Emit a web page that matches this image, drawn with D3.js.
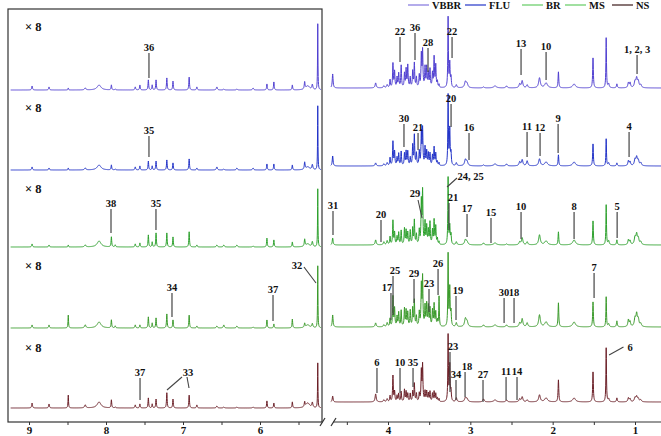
<!DOCTYPE html>
<html><head><meta charset="utf-8">
<script src="https://cdn.jsdelivr.net/npm/d3@7/dist/d3.min.js"></script>
<style>body{margin:0;background:#fff}svg{display:block}</style>
</head><body><script>
// ---------------- DATA ----------------
const series = ["VBBR", "FLU", "BR", "MS", "NS"];
const lineColors = ["#4f3fd1", "#2233c8", "#2da12d", "#3a9a2a", "#6b1f27"];
const legendColors = ["#8c7fe0", "#3344cc", "#6fcf6f", "#6fcf6f", "#4a2a2a"];

// right region (4.7 - 0.65 ppm): peak centres, half widths, intensities per sample
const rightPpm = [4.672,4.15,4.05,4.01,3.975,3.94,3.92,3.89,3.87,3.84,3.80,3.78,3.76,3.73,3.70,3.68,3.655,3.62,3.595,3.58,3.55,3.53,3.51,3.49,3.46,3.44,3.42,3.40,3.38,3.27,3.25,3.235,3.17,3.06,3.04,2.84,2.70,2.56,2.40,2.37,2.31,2.16,2.08,1.93,1.74,1.51,1.35,1.32,1.22,1.08,1.06,1.00,0.98,0.96,0.93];
const rightWidth = [0.006,0.008,0.008,0.008,0.005,0.005,0.005,0.005,0.005,0.005,0.005,0.005,0.005,0.005,0.005,0.005,0.005,0.005,0.005,0.005,0.005,0.005,0.005,0.005,0.005,0.005,0.005,0.005,0.004,0.004,0.005,0.005,0.008,0.012,0.012,0.01,0.02,0.01,0.01,0.01,0.01,0.012,0.02,0.005,0.02,0.005,0.004,0.008,0.006,0.008,0.008,0.01,0.01,0.01,0.01];
const rightVBBR = [14,5,2,3,8,24,16,10,14,22,14,18,22,10,16,24,10,12,32,36,20,20,14,18,14,30,22,6,3,70,24,10,3,6,4,1,2,2,4,7,3,10,5,16,4,30,50,4,4,5,5,6,9,6,3];
const rightFLU  = [10,3,2,3,8,24,14,8,12,14,12,14,14,8,20,30,12,14,32,36,18,14,12,12,10,18,12,4,3,70,36,12,3,6,4,1,2,2,4,6,5,7,4,11,4,22,27,3,3,5,4,6,8,5,3];
const rightBR   = [7,5,3,4,8,24,12,8,12,14,16,14,12,14,16,24,10,14,42,52,22,18,14,22,14,24,18,6,3,67,18,10,3,5,3,2,2,1,3,7,3,10,4,13,5,24,40,4,5,5,4,7,10,6,3];
const rightMS   = [12,4,2,4,8,30,18,10,14,16,18,16,14,16,18,26,10,14,40,48,20,22,20,18,16,22,14,6,30,72,38,14,4,8,5,2,2,2,4,8,4,12,5,24,5,25,30,3,6,7,5,8,12,7,3];
const rightNS   = [6,8,2,3,6,26,10,6,8,10,12,10,8,8,10,18,8,8,30,36,10,10,8,10,8,10,8,4,3,66,36,10,4,4,3,3,2,2,3,5,2,7,4,22,4,30,54,3,4,4,3,4,5,3,2];

// left region (9.25 - 5.2 ppm, shown x8)
const leftPpm = [8.96,8.74,8.49,8.27,8.09,7.93,7.88,7.62,7.56,7.45,7.40,7.35,7.21,7.13,6.92,6.82,6.56,6.47,6.30,6.09,5.91,5.82,5.58,5.42,5.38,5.32,5.25];
const leftWidth = [0.006,0.006,0.004,0.01,0.03,0.005,0.006,0.006,0.005,0.005,0.005,0.005,0.005,0.005,0.005,0.006,0.008,0.008,0.008,0.008,0.005,0.005,0.005,0.006,0.03,0.008,0.003];
const leftVBBR = [0.5,0.38,0.25,0.25,0.62,0.62,0.12,0.38,0.62,1.25,0.62,1.25,1.5,1.1,1.6,0.38,0.38,0.12,0.12,0.25,0.75,1.0,0.62,0.88,0.5,0.62,8.25];
const leftFLU  = [0.38,0.25,0.25,0.25,0.62,0.62,0.12,0.38,0.5,1.1,0.5,1.1,1.25,0.88,1.38,0.25,0.38,0.12,0.25,0.25,0.75,0.75,0.62,0.88,0.38,0.62,8.0];
const leftBR   = [0.38,0.25,0.25,0.25,0.75,1.25,0.25,0.38,0.5,1.5,0.62,1.75,1.75,1.25,1.9,0.25,0.25,0.25,0.25,0.12,1.1,0.88,0.62,0.88,0.38,0.62,7.25];
const leftMS   = [0.38,0.38,1.6,0.38,0.75,1.0,0.25,0.38,0.38,1.38,0.62,1.25,1.75,1.0,1.6,0.25,0.25,0.38,0.25,0.12,1.0,0.5,1.1,0.5,0.38,0.5,7.75];
const leftNS   = [0.62,0.5,1.6,0.38,0.75,1.0,0.12,0.38,0.5,1.25,0.5,1.1,1.9,1.1,1.6,0.38,0.25,0.12,0.12,0.12,0.88,0.62,0.75,0.62,0.62,0.62,5.6];

const leftTicks = [9, 8.5, 8, 7.5, 7, 6.5, 6, 5.5];
const rightTicks = [4.5, 4, 3.5, 3, 2.5, 2, 1.5, 1];
const magnification = "× 8";

// annotations: [trace, text, ppm, lineTop, lineBottom, textDx]
const rightLabels = [
 [0,"22",3.854,51,26,0],[0,"36",3.672,55,28,0],[0,"28",3.514,40,16,0],[0,"22",3.222,51,30,0],[0,"13",2.384,39,13,0],[0,"10",2.08,36,8,0],[0,"1, 2, 3",0.975,33,14,0],
 [1,"20",3.234,62,39,0],[1,"30",3.806,42,19,0],[1,"21",3.635,33,16,0],[1,"16",3.016,33,6,0],[1,"11",2.311,34,9,0],[1,"12",2.153,33,10,0],[1,"9",1.934,42,13,0],[1,"4",1.072,34,9,0],
 [2,"31",4.668,34,10,0],[2,"20",4.085,25,3,0],[2,"21",3.259,42,15,4],[2,"17",3.04,31,8,0],[2,"15",2.749,27,2,0],[2,"10",2.384,33,6,0],[2,"8",1.74,33,6,0],[2,"5",1.217,33,7,0],
 [3,"25",3.939,51,12,2],[3,"17",3.964,34,7,-4],[3,"29",3.684,48,24,0],[3,"23",3.502,38,15,0],[3,"26",3.392,58,32,0],[3,"19",3.174,31,7,2],[3,"30",2.59,29,4,0],[3,"18",2.469,29,4,0],[3,"7",1.497,54,29,0],
 [4,"6",4.134,34,9,0],[4,"10",3.854,34,9,0],[4,"35",3.696,34,15,0],[4,"23",3.247,50,10,3],[4,"34",3.174,22,2,0],[4,"18",3.064,30,5,2],[4,"27",2.846,22,0,0],[4,"11",2.566,25,2,0],[4,"14",2.433,25,2,0]
];
const leftLabels = [
 [0,"36",7.442,37,12,0],[1,"35",7.442,34,13,0],[2,"38",7.935,38,14,0],[2,"35",7.351,38,17,0],
 [3,"34",7.143,35,11,0],[3,"37",5.831,33,7,0],[4,"37",7.558,30,8,0]
];
// slanted leaders: [panel, trace, text, textPpm, textH, anchor, [[p1,h1,p2,h2],...]]
const slantLabels = [
 ["R",2,"29",3.672,48,"middle",[[3.635,45,3.587,27]]],
 ["R",2,"24, 25",3.155,65,"start",[[3.162,67,3.283,58]]],
 ["R",4,"6",1.06,51,"middle",[[1.14,55,1.315,47]]],
 ["L",3,"32",5.519,59,"middle",[[5.429,61,5.273,45]]],
 ["L",4,"33",6.935,32,"middle",[[7.013,31,7.208,18],[6.948,31,6.922,20]]]
];

// ---------------- LAYOUT ----------------
const W = 661, H = 436;
const baseR = [88, 166, 245, 327, 402];
const baseL = [90, 170, 247, 328, 408];
const rightSets = [rightVBBR, rightFLU, rightBR, rightMS, rightNS];
const leftSets = [leftVBBR, leftFLU, leftBR, leftMS, leftNS];
const box = {x0: 8, y0: 9, x1: 322, y1: 422};
const axisY = 422;

const svg = d3.select("body").append("svg").attr("width", W).attr("height", H);
const xL = d3.scaleLinear().domain([9, 6]).range([29, 260]);
const xR = d3.scaleLinear().domain([4, 1]).range([388, 635]);
const yR = d3.scaleLinear().domain([0, 80]).range([0, 80]);
const yL = d3.scaleLinear().domain([0, 10]).range([0, 80]); // x8 magnification

function spectrum(ppms, widths, heights, lo, hi, step) {
  const xs = d3.range(lo, hi, step).concat(ppms.filter(p => p >= lo && p <= hi));
  xs.sort((a, b) => a - b);
  return xs.map(x => [x, d3.sum(ppms, (c, i) => heights[i] * widths[i] * widths[i] / ((x - c) * (x - c) + widths[i] * widths[i]))]);
}

const defs = svg.append("defs");
defs.append("clipPath").attr("id", "clipL").append("rect").attr("x", box.x0 + 1).attr("y", 0).attr("width", box.x1 - box.x0 - 2).attr("height", box.y1);
defs.append("clipPath").attr("id", "clipR").append("rect").attr("x", 329).attr("y", 0).attr("width", W - 329).attr("height", axisY);

const font = "'Liberation Serif','Times New Roman',serif";

// spectra
const gL = svg.append("g").attr("clip-path", "url(#clipL)");
const gR = svg.append("g").attr("clip-path", "url(#clipR)");
series.forEach((s, i) => {
  const dL = spectrum(leftPpm, leftWidth, leftSets[i], 5.2, 9.24, 0.002);
  gL.append("path").attr("fill", "none").attr("stroke", lineColors[i]).attr("stroke-width", 1)
    .attr("d", d3.line().x(d => xL(d[0])).y(d => baseL[i] - yL(d[1]))(dL));
  const dR = spectrum(rightPpm, rightWidth, rightSets[i], 0.66, 4.695, 0.002);
  gR.append("path").attr("fill", "none").attr("stroke", lineColors[i]).attr("stroke-width", 1)
    .attr("d", d3.line().x(d => xR(d[0])).y(d => baseR[i] - yR(d[1]))(dR));
});

// box
svg.append("rect").attr("x", box.x0).attr("y", box.y0).attr("width", box.x1 - box.x0).attr("height", box.y1 - box.y0)
  .attr("fill", "none").attr("stroke", "#333").attr("stroke-width", 1.2);

// axes
const axL = svg.append("g").attr("transform", `translate(0,${axisY})`)
  .call(d3.axisBottom(xL).tickValues(leftTicks).tickSize(3).tickPadding(1).tickFormat(d => Number.isInteger(d) ? d : ""));
axL.select(".domain").remove();
const axR = svg.append("g").attr("transform", `translate(0,${axisY})`)
  .call(d3.axisBottom(xR).tickValues(rightTicks).tickSize(3).tickPadding(1).tickFormat(d => Number.isInteger(d) ? d : ""));
axR.select(".domain").remove();
svg.append("line").attr("x1", 333).attr("x2", W).attr("y1", axisY).attr("y2", axisY).attr("stroke", "#333").attr("stroke-width", 1.2);
[axL, axR].forEach(a => {
  a.selectAll("line").attr("stroke", "#333");
  a.selectAll("text").attr("font-family", font).attr("font-weight", "bold").attr("font-size", 11).attr("fill", "#111");
});
// break marks
[[320, 426, 325, 418], [331, 426, 336, 418]].forEach(b =>
  svg.append("line").attr("x1", b[0]).attr("y1", b[1]).attr("x2", b[2]).attr("y2", b[3]).attr("stroke", "#333").attr("stroke-width", 1.2));

// x8 labels
baseL.forEach((b, i) => {
  svg.append("text").attr("x", 25).attr("y", [31, 112, 193, 270, 352][i]).text(magnification)
    .attr("font-family", font).attr("font-weight", "bold").attr("font-size", 12.5).attr("fill", "#111");
});

// annotations
const ann = svg.append("g").attr("font-family", font).attr("font-weight", "bold").attr("font-size", 10.5).attr("fill", "#111");
function vLabel(x, base, l) {
  const px = x(l[2]);
  ann.append("line").attr("x1", px).attr("x2", px).attr("y1", base - l[3]).attr("y2", base - l[4]).attr("stroke", "#444").attr("stroke-width", 1.2);
  ann.append("text").attr("x", px + l[5]).attr("y", base - l[3] - 2.5).attr("text-anchor", "middle").text(l[1]);
}
rightLabels.forEach(l => vLabel(xR, baseR[l[0]], l));
leftLabels.forEach(l => vLabel(xL, baseL[l[0]], l));
slantLabels.forEach(s => {
  const x = s[0] === "R" ? xR : xL, base = s[0] === "R" ? baseR[s[1]] : baseL[s[1]];
  ann.append("text").attr("x", x(s[3])).attr("y", base - s[4]).attr("text-anchor", s[5]).text(s[2]);
  s[6].forEach(seg => ann.append("line").attr("x1", x(seg[0])).attr("y1", base - seg[1]).attr("x2", x(seg[2])).attr("y2", base - seg[3])
    .attr("stroke", "#444").attr("stroke-width", 1.1));
});

// legend
const legX = [408, 465, 522, 565, 612];
series.forEach((s, i) => {
  svg.append("line").attr("x1", legX[i]).attr("x2", legX[i] + 21).attr("y1", 5).attr("y2", 5).attr("stroke", legendColors[i]).attr("stroke-width", 1.3);
  svg.append("text").attr("x", legX[i] + 24).attr("y", 9).text(s)
    .attr("font-family", font).attr("font-weight", "bold").attr("font-size", 10.5).attr("fill", "#111");
});
</script></body></html>
